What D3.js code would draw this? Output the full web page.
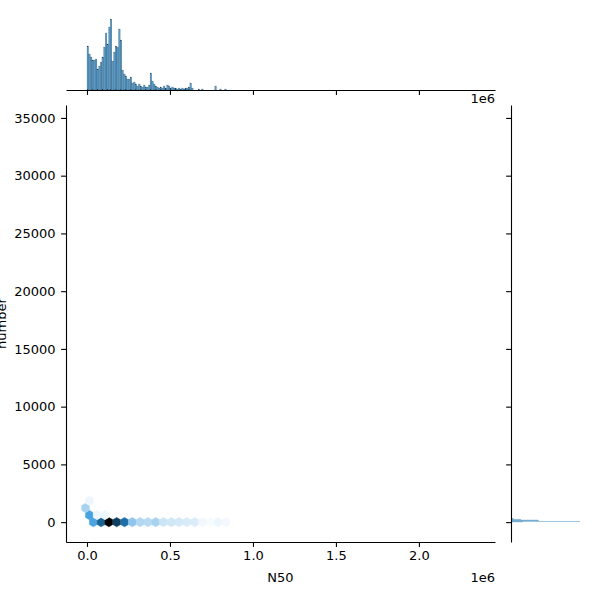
<!DOCTYPE html>
<html>
<head>
<meta charset="utf-8">
<script src="https://cdn.jsdelivr.net/npm/d3@7/dist/d3.min.js"></script>
<style>
  html, body { margin: 0; padding: 0; background: #fff; }
  svg { display: block; }
  text { font-family: "DejaVu Sans", sans-serif; fill: #000; }
</style>
</head>
<body>
<svg id="chart" width="600" height="600"></svg>
<script>
// ---------------- data ----------------
const xLabel = "N50";
const yLabel = "number";
const xTicks = [0, 500000, 1000000, 1500000, 2000000];
const xTickLabels = ["0.0", "0.5", "1.0", "1.5", "2.0"];
const yTicks = [0, 5000, 10000, 15000, 20000, 25000, 30000, 35000];
const yTickLabels = ["0", "5000", "10000", "15000", "20000", "25000", "30000", "35000"];
const offsetLabel = "1e6";

// data extremes
const n50Extent = [-9000, 2341000];
const numberExtent = [0, 34400];

// hexbin cells (centre N50, centre number, count)
const hexN50 = [38000, 85000, 132000, 179000, 226000, 273000, 320000, 367000, 414000,
  461000, 508000, 555000, 602000, 649000, 696000, 743000, 790000, 837000,
  14500, 61500, 108500, -9000, 14500];
const hexNumber = [0, 0, 0, 0, 0, 0, 0, 0, 0,
  0, 0, 0, 0, 0, 0, 0, 0, 0,
  614, 614, 614, 1229, 1843];
const hexCount = [41, 66, 100, 78, 62, 26, 18, 17, 20,
  12, 11, 10, 9, 8, 3, 2, 4, 3,
  42, 4, 4, 20, 4];

// marginal histogram of N50
const n50BinStart = 0;
const n50BinWidth = 10000;
const n50Counts = [44, 36, 33, 30, 30, 31, 21, 24, 28, 33, 43, 57, 46, 63, 71, 29, 38, 44, 43, 61,
  50, 20, 16, 14, 11, 11, 13, 7, 8, 6, 4, 6, 4, 3, 5, 3, 3, 5, 17, 9,
  6, 4, 3, 2, 3, 2, 4, 2, 5, 4, 2, 3, 2, 2, 1, 2, 1, 2, 1, 2,
  2, 3, 7, 2, 0, 0, 0, 1, 0, 1, 0, 0, 0, 0, 0, 0, 0, 4, 0, 0,
  1, 0, 0, 1];

// marginal histogram of number
const numberBinStart = 0;
const numberBinWidth = 50;
const numberCounts = [12, 69, 28, 27, 10, 3, 2, 1, 1, 1];

// ---------------- layout ----------------
const svg = d3.select("#chart");
const main = { left: 66, right: 495, top: 105, bottom: 542 };
const margSize = (main.bottom - main.top) / 5;
const topM = { bottom: 90, top: 90 - margSize };
const rightM = { left: 511, right: 511 + margSize };
const FS = "13px";
const TICK = 4.9;

const xR = n50Extent[1] - n50Extent[0];
const yR = numberExtent[1] - numberExtent[0];
const x = d3.scaleLinear().domain([n50Extent[0] - 0.05 * xR, n50Extent[1] + 0.05 * xR]).range([main.left, main.right]);
const y = d3.scaleLinear().domain([numberExtent[0] - 0.05 * yR, numberExtent[1] + 0.05 * yR]).range([main.bottom, main.top]);

// colour map (seaborn jointplot hex: C0 hue, lightness 1 -> 0)
const base = d3.hsl("#1f77b4");
const anchors = d3.range(12).map(i => d3.hsl(base.h, base.s, 1 - i / 11).toString());
const cmap = d3.scaleLinear().domain(d3.range(12).map(i => i / 11)).range(anchors).interpolate(d3.interpolateRgb);
const maxCount = d3.max(hexCount);

// hexagons
const sx = xR / 50, sy = yR / 28;
const hexOffsets = [[0.5, -0.5], [0.5, 0.5], [0, 1], [-0.5, 0.5], [-0.5, -0.5], [0, -1]]
  .map(([a, b]) => [a * sx, b * sy / 3]);
const gHex = svg.append("g");
hexN50.forEach((cx, i) => {
  const cy = hexNumber[i];
  const pts = hexOffsets.map(([dx, dy]) => [x(cx + dx), y(cy + dy)]);
  gHex.append("polygon")
    .attr("points", pts.map(p => p.join(",")).join(" "))
    .attr("fill", cmap(hexCount[i] / maxCount))
    .attr("stroke", cmap(hexCount[i] / maxCount))
    .attr("stroke-width", 0.5);
});

// axes styling helper
function styleAxis(g) {
  g.selectAll("path.domain").attr("stroke", "#000").attr("stroke-width", 1.1);
  g.selectAll(".tick line").attr("stroke", "#000").attr("stroke-width", 1.1);
  g.selectAll(".tick text").attr("font-size", FS).attr("font-family", "DejaVu Sans").attr("fill", "#000");
}

// main x axis
const gx = svg.append("g").attr("transform", `translate(0,${main.bottom})`)
  .call(d3.axisBottom(x).tickValues(xTicks).tickFormat((d, i) => xTickLabels[i]).tickSizeInner(TICK).tickSizeOuter(0).tickPadding(3.5));
styleAxis(gx);
// main y axis
const gy = svg.append("g").attr("transform", `translate(${main.left},0)`)
  .call(d3.axisLeft(y).tickValues(yTicks).tickFormat((d, i) => yTickLabels[i]).tickSizeInner(TICK).tickSizeOuter(0).tickPadding(5.5));
styleAxis(gy);

svg.append("text").attr("x", (main.left + main.right) / 2).attr("y", 582)
  .attr("text-anchor", "middle").attr("font-size", FS).text(xLabel);
svg.append("text").attr("transform", `translate(5.5,${(main.top + main.bottom) / 2}) rotate(-90)`)
  .attr("text-anchor", "middle").attr("font-size", FS).text(yLabel);
svg.append("text").attr("x", main.right).attr("y", 582)
  .attr("text-anchor", "end").attr("font-size", FS).text(offsetLabel);

// ---------------- top marginal ----------------
const yTop = d3.scaleLinear().domain([0, d3.max(n50Counts) * margSize / 71]).range([topM.bottom, topM.top]);
svg.append("g").selectAll("rect").data(n50Counts).join("rect")
  .attr("x", (d, i) => x(n50BinStart + i * n50BinWidth))
  .attr("width", x(n50BinWidth) - x(0))
  .attr("y", d => yTop(d))
  .attr("height", d => yTop(0) - yTop(d))
  .attr("fill", "#1f77b4").attr("fill-opacity", 0.75)
  .attr("stroke", "#000").attr("stroke-opacity", 0.6).attr("stroke-width", 0.2);
const gxTop = svg.append("g").attr("transform", `translate(0,${topM.bottom})`)
  .call(d3.axisBottom(x).tickValues(xTicks).tickFormat("").tickSizeInner(TICK).tickSizeOuter(0));
styleAxis(gxTop);
svg.append("text").attr("x", main.right).attr("y", 103)
  .attr("text-anchor", "end").attr("font-size", FS).text(offsetLabel);

// ---------------- right marginal ----------------
const xRight = d3.scaleLinear().domain([0, d3.max(n50Counts) * margSize / 71]).range([rightM.left, rightM.right]);
svg.append("g").selectAll("rect").data(numberCounts).join("rect")
  .attr("x", xRight(0))
  .attr("y", (d, i) => y(numberBinStart + (i + 1) * numberBinWidth))
  .attr("height", (d, i) => y(numberBinStart + i * numberBinWidth) - y(numberBinStart + (i + 1) * numberBinWidth))
  .attr("width", d => xRight(d) - xRight(0))
  .attr("fill", "#1f77b4").attr("fill-opacity", 0.75);
const gyRight = svg.append("g").attr("transform", `translate(${rightM.left},0)`)
  .call(d3.axisLeft(y).tickValues(yTicks).tickFormat("").tickSizeInner(TICK).tickSizeOuter(0));
styleAxis(gyRight);
</script>
</body>
</html>
